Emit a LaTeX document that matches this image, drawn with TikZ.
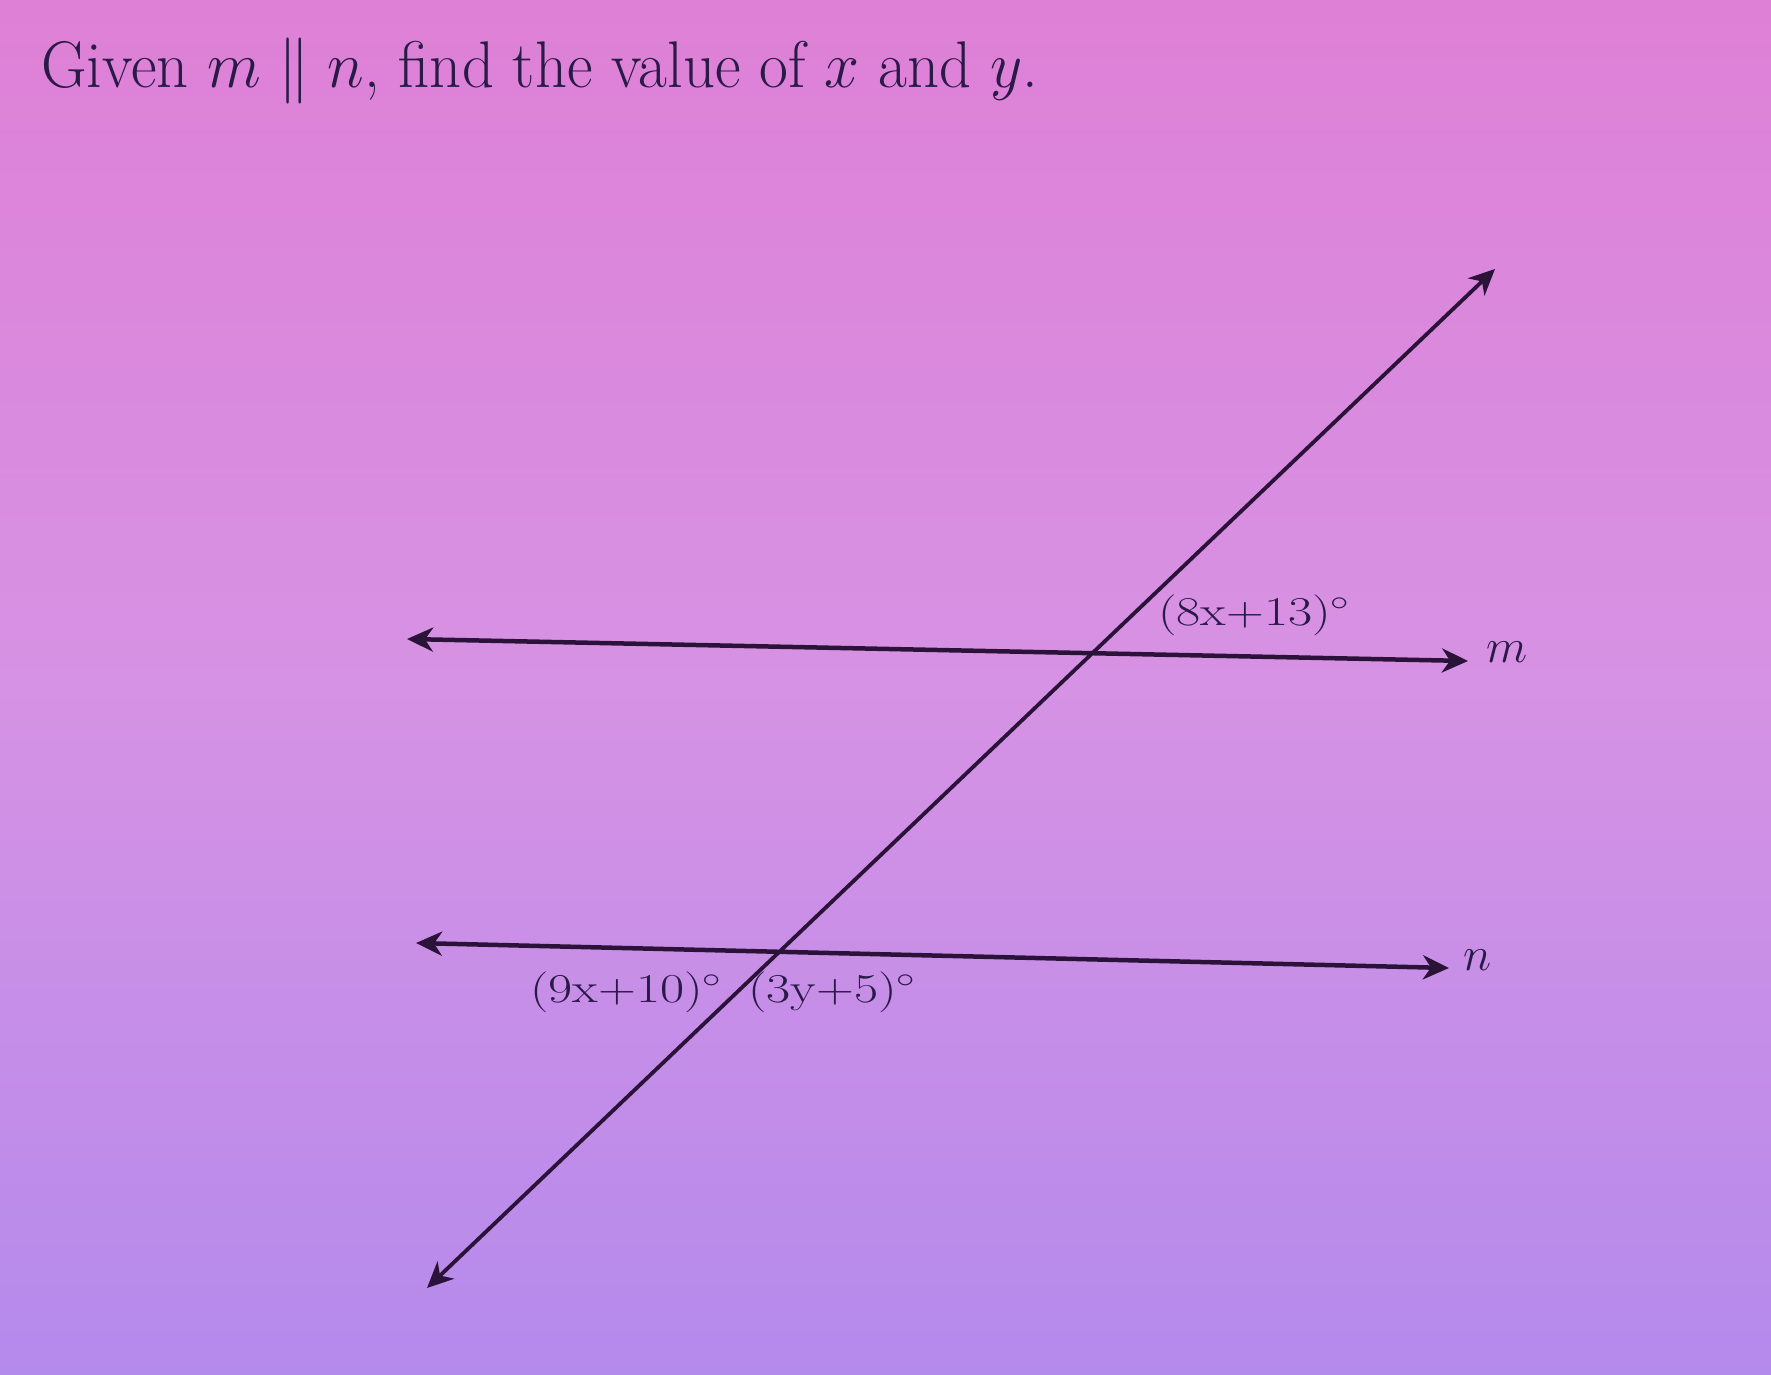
\RequirePackage{fix-cm}
\documentclass[tikz,border=0pt]{standalone}
\usetikzlibrary{arrows.meta}
\definecolor{bgtop}{HTML}{DE80D6}
\definecolor{bgmid}{HTML}{D692E4}
\definecolor{bgbot}{HTML}{B48AEC}
\definecolor{ink}{HTML}{2A1238}
\definecolor{txt}{HTML}{2A1A48}
\begin{document}
\begin{tikzpicture}[x=1pt,y=-1pt,
  geoline/.style={draw=ink,line width=4.5pt,{Stealth[length=26pt,width=24pt,inset=8pt]}-{Stealth[length=26pt,width=24pt,inset=8pt]}},
  anglelbl/.style={text=txt,inner sep=0pt,font=\fontsize{41}{43}\selectfont},
  linelbl/.style={text=txt,inner sep=0pt,font=\fontsize{48}{50}\selectfont}]
\shade[top color=bgtop,bottom color=bgbot,middle color=bgmid] (0,0) rectangle (1771,1375);
\useasboundingbox (0,0) rectangle (1771,1375);
% title
\node[anchor=base west,inner sep=0pt,text=txt,font=\fontsize{66}{70}\selectfont] (title) at (41,88)
  {\scalebox{0.95}[1]{Given $m \parallel n$, find the value of $x$ and $y$.}};
% line endpoints
\coordinate (mL) at (407,639);
\coordinate (mR) at (1468,661);
\coordinate (nL) at (416,943);
\coordinate (nR) at (1449,968);
\coordinate (tT) at (1495,269);
\coordinate (tB) at (427,1288);
\draw[geoline] (mL) -- (mR);
\draw[geoline] (nL) -- (nR);
\draw[geoline,line width=3.8pt] (tB) -- (tT);
% labels
\node[anglelbl] (a1) at (1254,615) {\scalebox{1.28}[1]{(8x+13)$^\circ$}};
\node[anglelbl] (a2) at (626,992) {\scalebox{1.28}[1]{(9x+10)$^\circ$}};
\node[anglelbl] (a3) at (832,992) {\scalebox{1.28}[1]{(3y+5)$^\circ$}};
\node[linelbl] (lm) at (1507,652) {$m$};
\node[linelbl] (ln) at (1478,960) {$n$};
\end{tikzpicture}
\end{document}
